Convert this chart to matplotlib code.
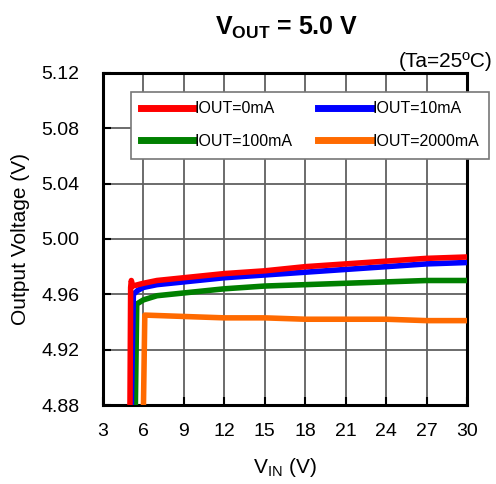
import matplotlib
matplotlib.use("Agg")
import matplotlib.pyplot as plt

plt.rcParams["font.family"] = ["Liberation Sans", "DejaVu Sans"]
plt.rcParams["mathtext.fontset"] = "custom"
plt.rcParams["mathtext.rm"] = "Liberation Sans"
plt.rcParams["mathtext.bf"] = "Liberation Sans:bold"

# Output voltage vs input voltage
vin_0ma = [5.0, 5.05, 5.1, 5.2, 6, 7, 9, 12, 15, 18, 21, 24, 27, 30]
vout_0ma = [4.88, 4.965, 4.970, 4.966, 4.968, 4.970, 4.972, 4.975, 4.977, 4.980, 4.982, 4.984, 4.986, 4.987]

vin_10ma = [5.1, 5.25, 5.6, 6, 7, 9, 12, 15, 18, 21, 24, 27, 30]
vout_10ma = [4.88, 4.960, 4.963, 4.965, 4.967, 4.969, 4.972, 4.974, 4.976, 4.978, 4.980, 4.982, 4.983]

vin_100ma = [5.4, 5.5, 6, 7, 9, 12, 15, 18, 21, 24, 27, 30]
vout_100ma = [4.88, 4.953, 4.956, 4.959, 4.961, 4.964, 4.966, 4.967, 4.968, 4.969, 4.970, 4.970]

vin_2000ma = [6.0, 6.1, 9, 12, 15, 18, 21, 24, 27, 30]
vout_2000ma = [4.88, 4.945, 4.944, 4.943, 4.943, 4.942, 4.942, 4.942, 4.941, 4.941]

xticks = [3, 6, 9, 12, 15, 18, 21, 24, 27, 30]
yticks = [4.88, 4.92, 4.96, 5.00, 5.04, 5.08, 5.12]

fig = plt.figure(figsize=(4.96, 4.84), dpi=100)
ax = fig.add_axes([0.2077, 0.1632, 0.7338, 0.686])

l2000, = ax.plot(vin_2000ma, vout_2000ma, color="#ff6a00", lw=4, label="IOUT=2000mA", zorder=3)
l100, = ax.plot(vin_100ma, vout_100ma, color="#008000", lw=4, label="IOUT=100mA", zorder=4)
l10, = ax.plot(vin_10ma, vout_10ma, color="#0000ff", lw=4, label="IOUT=10mA", zorder=5)
l0, = ax.plot(vin_0ma, vout_0ma, color="#ff0000", lw=4, label="IOUT=0mA", zorder=6)

ax.set_xlim(3, 30)
ax.set_ylim(4.88, 5.12)
ax.set_xticks(xticks)
ax.set_yticks(yticks)
ax.set_yticklabels([f"{v:.2f}" for v in yticks])
ax.tick_params(labelsize=14, direction="in", length=6, width=1.5, color="black")
ax.tick_params(axis="y", pad=17)
ax.tick_params(axis="x", pad=13)
ax.grid(True, color="#606060", lw=1.3)
ax.set_axisbelow(True)
for s in ax.spines.values():
    s.set_linewidth(2.2)
    s.set_color("black")

ax.set_xlabel(r"V$_{\mathrm{IN}}$ (V)", fontsize=15)
ax.set_ylabel("Output Voltage (V)", fontsize=15)
ax.xaxis.set_label_coords(0.5, -0.155)
ax.yaxis.set_label_coords(-0.2, 0.5)

fig.text(0.578, 0.943, r"$\mathbf{V_{OUT}}$ = 5.0 V", fontsize=18, fontweight="bold",
         ha="center", va="center")
fig.text(0.992, 0.872, "(Ta=25ºC)", fontsize=15, ha="right", va="center")

leg = ax.legend([l0, l100, l10, l2000],
                ["IOUT=0mA", "IOUT=100mA", "IOUT=10mA", "IOUT=2000mA"],
                ncol=2, loc="upper left", bbox_to_anchor=(0.077, 0.943),
                fontsize=11.5, handlelength=3.3, handletextpad=0.1,
                columnspacing=1.6, borderaxespad=0, fancybox=False, framealpha=1,
                edgecolor="#777777", labelspacing=1.1, borderpad=0.6)
leg.get_frame().set_linewidth(1.2)
for ln in leg.get_lines():
    ln.set_linewidth(5)
leg.set_zorder(10)

fig.savefig("out.png", dpi=100)
